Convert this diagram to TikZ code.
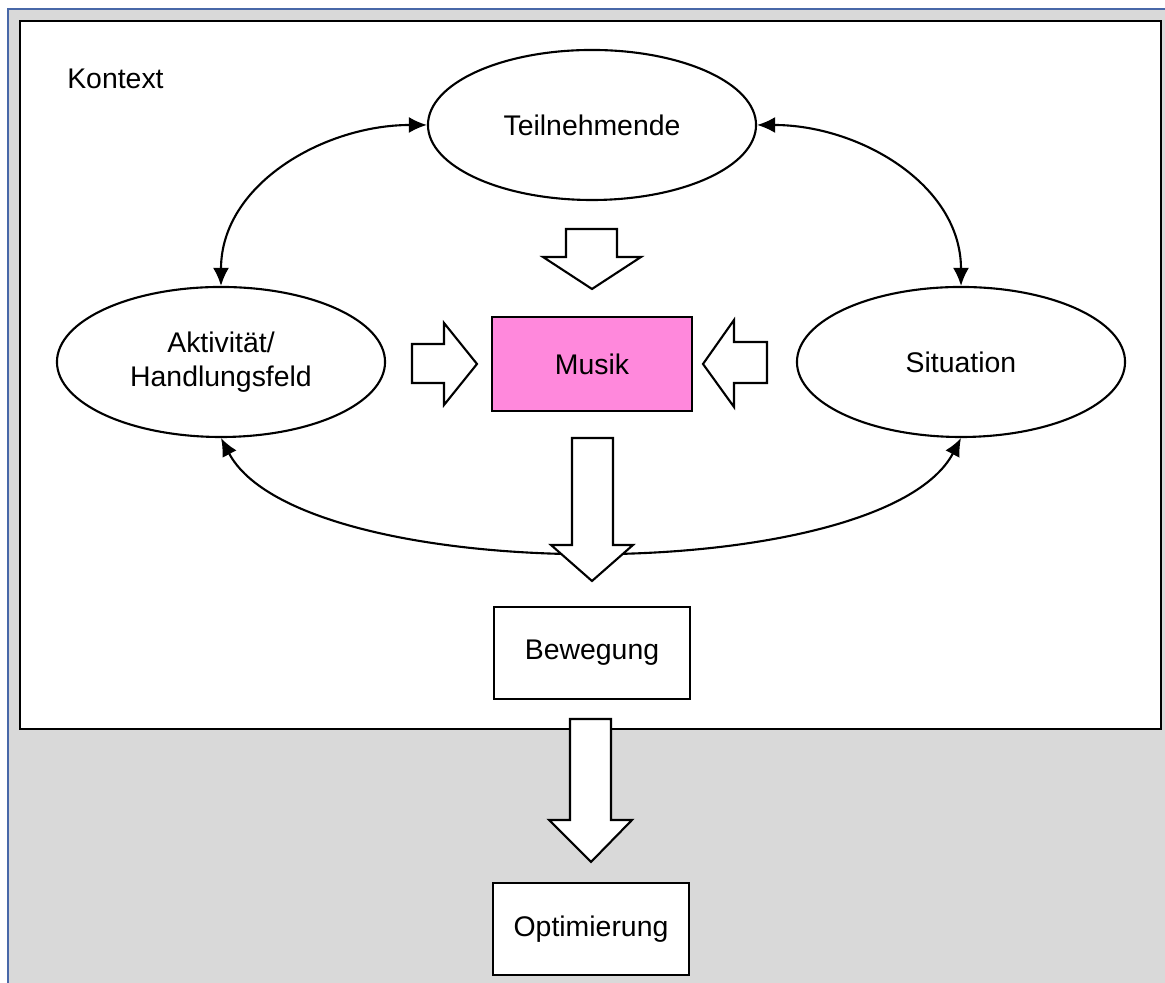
\documentclass[tikz,border=0pt]{standalone}
\usepackage{fontspec}
\setmainfont{Liberation Sans}
\usepackage{tikz}
\usetikzlibrary{shapes.geometric,arrows.meta}

\definecolor{panelgray}{RGB}{217,217,217}
\definecolor{frameblue}{RGB}{72,104,168}
\definecolor{musikpink}{RGB}{255,136,220}

\tikzset{
  oval/.style={draw,ellipse,line width=1.5pt,fill=white,align=center,
    minimum width=8.2cm,minimum height=3.75cm,inner sep=0pt},
  box/.style={draw,rectangle,line width=1.5pt,fill=white,
    minimum width=4.9cm,minimum height=2.3cm},
  link/.style={{Latex[length=0.45cm,width=0.4cm]}-{Latex[length=0.45cm,width=0.4cm]},line width=1.5pt},
  fat/.style={draw,fill=white,line width=1.5pt,line join=miter}
}

\begin{document}
\begin{tikzpicture}[x=0.025cm,y=0.025cm,font=\fontsize{20.2}{24}\selectfont]
\useasboundingbox (0,0) rectangle (1165,983);

% window background
\fill[panelgray] (8,0) rectangle (1165,974);
\draw[frameblue,line width=1.4pt] (8,0) -- (8,974) -- (1165,974);
\draw[fill=white,line width=2pt] (20,254) rectangle (1161,962);
\node[anchor=base west,inner sep=0pt] (kontext) at (67,894) {Kontext};

\node[oval] (tn) at (592,858) {Teilnehmende};
\node[oval] (ak) at (221,621) {Aktivität/\\Handlungsfeld};
\node[oval] (si) at (961,621) {Situation};

\draw[link] (tn.west) to[out=180,in=90] (ak.north);
\draw[link] (tn.east) to[out=0,in=90] (si.north);
\draw[link] (ak.south) .. controls (300,395) and (882,395) .. (si.south);

\node[box,fill=musikpink,minimum width=5cm,minimum height=2.35cm] (musik) at (592,619) {Musik};

% block arrows
\draw[fat] (566,754) -- (617,754) -- (617,726) -- (641,726) -- (592,694) -- (543,726) -- (566,726) -- cycle;
\draw[fat] (412,639) -- (444,639) -- (444,660) -- (477,619) -- (444,578) -- (444,600) -- (412,600) -- cycle;
\draw[fat] (767,641) -- (734,641) -- (734,663) -- (703,619) -- (734,576) -- (734,600) -- (767,600) -- cycle;
\draw[fat] (572,545) -- (613,545) -- (613,438) -- (633,438) -- (592,402) -- (551,438) -- (572,438) -- cycle;
\draw[fat] (570,264) -- (611,264) -- (611,163) -- (632,163) -- (591,121) -- (549,163) -- (570,163) -- cycle;

\node[box] (bew) at (592,330) {Bewegung};
\node[box] (opt) at (591,54) {Optimierung};
\end{tikzpicture}
\end{document}
